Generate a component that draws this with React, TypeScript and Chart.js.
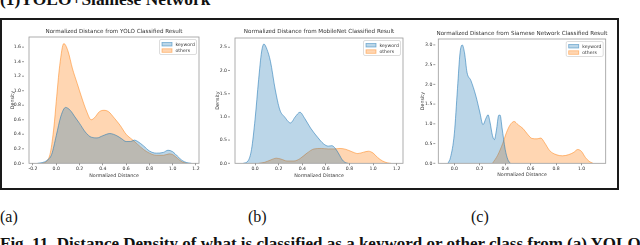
import React, { useEffect, useRef } from "react";
import { Chart, registerables } from "chart.js";

Chart.register(...registerables);

// ---------- data ----------
const seriesNames = ["keyword", "others"];

const yoloTitle = "Normalized Distance from YOLO Classified Result";
const mobileTitle = "Normalized Distance from MobileNet Classified Result";
const siameseTitle = "Normalized Distance from Siamese Network Classified Result";

const xAxisLabel = "Normalized Distance";
const yAxisLabel = "Density";

const yoloKeywordX = [-0.16, -0.12, -0.08, -0.04, 0.0, 0.04, 0.08, 0.12, 0.16, 0.2, 0.25, 0.3, 0.35, 0.4, 0.46, 0.52, 0.56, 0.6, 0.64, 0.67, 0.7, 0.75, 0.8, 0.86, 0.92, 0.96, 1.0, 1.04, 1.08, 1.12, 1.16];
const yoloKeywordY = [0, 0.01, 0.04, 0.12, 0.38, 0.65, 0.77, 0.73, 0.64, 0.55, 0.43, 0.36, 0.35, 0.38, 0.41, 0.38, 0.34, 0.3, 0.3, 0.32, 0.3, 0.24, 0.17, 0.14, 0.15, 0.18, 0.16, 0.1, 0.04, 0.01, 0];

const yoloOthersX = [-0.12, -0.08, -0.05, -0.02, 0.0, 0.03, 0.065, 0.1, 0.14, 0.18, 0.22, 0.26, 0.3, 0.33, 0.37, 0.41, 0.45, 0.5, 0.55, 0.6, 0.65, 0.7, 0.75, 0.8, 0.86, 0.92, 0.97, 1.0, 1.04, 1.08, 1.12];
const yoloOthersY = [0, 0.03, 0.15, 0.5, 0.85, 1.35, 1.65, 1.55, 1.3, 1.1, 0.9, 0.72, 0.6, 0.63, 0.71, 0.73, 0.71, 0.62, 0.52, 0.4, 0.33, 0.26, 0.19, 0.14, 0.11, 0.11, 0.13, 0.12, 0.07, 0.02, 0];

const mobileKeywordX = [-0.1, -0.06, -0.03, 0.0, 0.03, 0.055, 0.075, 0.1, 0.13, 0.17, 0.21, 0.25, 0.3, 0.34, 0.38, 0.42, 0.47, 0.53, 0.58, 0.62, 0.65, 0.68, 0.71, 0.74, 0.77, 0.79];
const mobileKeywordY = [0, 0.05, 0.3, 0.95, 1.8, 2.4, 2.57, 2.46, 2.2, 1.6, 1.15, 1.0, 0.87, 1.0, 1.1, 0.97, 0.76, 0.56, 0.42, 0.37, 0.38, 0.32, 0.2, 0.07, 0.01, 0];

const mobileOthersX = [0.03, 0.08, 0.13, 0.18, 0.22, 0.27, 0.33, 0.38, 0.44, 0.5, 0.56, 0.62, 0.67, 0.72, 0.77, 0.82, 0.87, 0.92, 0.96, 1.0, 1.04, 1.08, 1.12, 1.15];
const mobileOthersY = [0, 0.02, 0.07, 0.11, 0.09, 0.05, 0.05, 0.1, 0.22, 0.31, 0.32, 0.31, 0.31, 0.32, 0.3, 0.25, 0.21, 0.24, 0.26, 0.22, 0.12, 0.05, 0.01, 0];

const siameseKeywordX = [-0.05, -0.03, 0.0, 0.025, 0.045, 0.062, 0.08, 0.1, 0.13, 0.17, 0.2, 0.225, 0.25, 0.265, 0.28, 0.3, 0.315, 0.33, 0.35, 0.36, 0.375, 0.4, 0.42, 0.44];
const siameseKeywordY = [0, 0.15, 0.75, 1.9, 2.8, 3.0, 2.8, 2.3, 2.1, 1.7, 1.3, 0.98, 1.15, 1.23, 1.05, 0.7, 0.6, 0.82, 1.22, 1.22, 0.9, 0.35, 0.1, 0];

const siameseOthersX = [0.3, 0.34, 0.38, 0.41, 0.44, 0.47, 0.5, 0.54, 0.58, 0.61, 0.65, 0.68, 0.71, 0.75, 0.8, 0.85, 0.9, 0.94, 0.97, 1.0, 1.03, 1.06, 1.09];
const siameseOthersY = [0, 0.2, 0.5, 0.78, 0.98, 1.06, 0.98, 0.88, 0.72, 0.63, 0.62, 0.64, 0.52, 0.32, 0.22, 0.19, 0.22, 0.28, 0.35, 0.3, 0.15, 0.05, 0];

const yoloXTicks = [-0.2, 0.0, 0.2, 0.4, 0.6, 0.8, 1.0, 1.2];
const mobileXTicks = [0.0, 0.2, 0.4, 0.6, 0.8, 1.0, 1.2];
const siameseXTicks = [0.0, 0.2, 0.4, 0.6, 0.8, 1.0];
const yoloYTicks = [0.0, 0.2, 0.4, 0.6, 0.8, 1.0, 1.2, 1.4, 1.6];
const mobileYTicks = [0.0, 0.5, 1.0, 1.5, 2.0, 2.5];
const siameseYTicks = [0.0, 0.5, 1.0, 1.5, 2.0, 2.5, 3.0];

// ---------- style ----------
const FONT = "'DejaVu Sans', sans-serif";
const TEXT = "#333";
const KW_FILL = "rgba(31,119,180,0.3)";
const KW_LINE = "rgba(31,119,180,0.55)";
const OT_FILL = "rgba(255,127,14,0.32)";
const OT_LINE = "rgba(255,127,14,0.5)";
const TICK_FS = 4.6;
const LABEL_FS = 4.8;
const TITLE_FS = 5.6;

type Panel = {
  title: string;
  kwX: number[]; kwY: number[]; otX: number[]; otY: number[];
  xTicks: number[]; yTicks: number[];
  xMin: number; xMax: number; yMax: number;
  left: number; top: number; width: number; height: number;
  plotLeft: number; plotRight: number; plotTop: number; plotBottom: number;
  titleY: number; densityX: number; xTitleY: number; yGap: number;
};

const panels: Panel[] = [
  {
    title: yoloTitle, kwX: yoloKeywordX, kwY: yoloKeywordY, otX: yoloOthersX, otY: yoloOthersY,
    xTicks: yoloXTicks, yTicks: yoloYTicks, xMin: -0.234, xMax: 1.226, yMax: 1.74,
    left: 3, top: 25, width: 199, height: 160,
    plotLeft: 29, plotRight: 199, plotTop: 37, plotBottom: 163.3,
    titleY: 32, densityX: 12.5, xTitleY: 175.7, yGap: 8,
  },
  {
    title: mobileTitle, kwX: mobileKeywordX, kwY: mobileKeywordY, otX: mobileOthersX, otY: mobileOthersY,
    xTicks: mobileXTicks, yTicks: mobileYTicks, xMin: -0.17, xMax: 1.253, yMax: 2.7,
    left: 209, top: 25, width: 198, height: 160,
    plotLeft: 235, plotRight: 403, plotTop: 38, plotBottom: 163.3,
    titleY: 32, densityX: 217.5, xTitleY: 175.7, yGap: 8,
  },
  {
    title: siameseTitle, kwX: siameseKeywordX, kwY: siameseKeywordY, otX: siameseOthersX, otY: siameseOthersY,
    xTicks: siameseXTicks, yTicks: siameseYTicks, xMin: -0.126, xMax: 1.19, yMax: 3.15,
    left: 412, top: 25, width: 198, height: 160,
    plotLeft: 438.3, plotRight: 605.7, plotTop: 39, plotBottom: 163.3,
    titleY: 34, densityX: 423, xTitleY: 175, yGap: 6,
  },
];

function pts(xs: number[], ys: number[]) {
  return xs.map((x, i) => ({ x, y: ys[i] }));
}

function ChartPanel({ p }: { p: Panel }) {
  const ref = useRef<HTMLCanvasElement>(null);
  useEffect(() => {
    if (!ref.current) return;
    const lh = LABEL_FS * 1.2;
    const canvasBottom = p.top + p.height;

    const decor = {
      id: "decor",
      afterDatasetsDraw(chart: any) {
        const { ctx, chartArea: a } = chart;
        ctx.save();
        ctx.strokeStyle = "#9a9a9a";
        ctx.lineWidth = 0.8;
        ctx.strokeRect(a.left, a.top, a.right - a.left, a.bottom - a.top);
        // y tick marks (next to labels)
        ctx.strokeStyle = "#555";
        ctx.lineWidth = 0.6;
        const ys = chart.scales.y;
        p.yTicks.forEach((v) => {
          const y = ys.getPixelForValue(v);
          ctx.beginPath();
          ctx.moveTo(a.left - p.yGap + 1, y);
          ctx.lineTo(a.left - p.yGap + 3, y);
          ctx.stroke();
        });
        ctx.restore();
      },
      afterDraw(chart: any) {
        const { ctx, chartArea: a } = chart;
        ctx.save();
        // chart title centred over the plot area
        ctx.fillStyle = TEXT;
        ctx.font = `${TITLE_FS}px ${FONT}`;
        ctx.textAlign = "center";
        ctx.textBaseline = "middle";
        ctx.fillText(p.title, (a.left + a.right) / 2, p.titleY - p.top);
        // legend in the upper right of the plot
        const w = 37, h = 15;
        const x = a.right - w - 2.5;
        const y = a.top + 2.5;
        ctx.fillStyle = "rgba(255,255,255,0.85)";
        ctx.strokeStyle = "#cfcfcf";
        ctx.lineWidth = 0.7;
        ctx.beginPath();
        (ctx as any).roundRect(x, y, w, h, 1.5);
        ctx.fill();
        ctx.stroke();
        chart.data.datasets.forEach((ds: any, i: number) => {
          const ry = y + 3 + i * 6.3;
          ctx.fillStyle = ds.backgroundColor;
          ctx.strokeStyle = ds.borderColor;
          ctx.lineWidth = 0.8;
          ctx.fillRect(x + 2.5, ry, 10, 3.5);
          ctx.strokeRect(x + 2.5, ry, 10, 3.5);
          ctx.fillStyle = TEXT;
          ctx.font = `4.6px ${FONT}`;
          ctx.textBaseline = "middle";
          ctx.textAlign = "left";
          ctx.fillText(ds.label, x + 16, ry + 1.9);
        });
        ctx.restore();
      },
    };

    const chart = new Chart(ref.current, {
      type: "line",
      data: {
        datasets: [
          { label: seriesNames[0], data: pts(p.kwX, p.kwY), backgroundColor: KW_FILL, borderColor: KW_LINE, fill: "origin", order: 1 },
          { label: seriesNames[1], data: pts(p.otX, p.otY), backgroundColor: OT_FILL, borderColor: OT_LINE, fill: "origin", order: 2 },
        ],
      },
      options: {
        animation: false,
        responsive: false,
        maintainAspectRatio: false,
        events: [],
        layout: { padding: { left: 0, top: p.plotTop - p.top, bottom: 0, right: p.left + p.width - p.plotRight } },
        elements: {
          point: { radius: 0 },
          line: { borderWidth: 1, cubicInterpolationMode: "monotone" },
        },
        plugins: {
          legend: { display: false },
          tooltip: { enabled: false },
          title: { display: false },
        },
        scales: {
          x: {
            type: "linear",
            min: p.xMin,
            max: p.xMax,
            afterBuildTicks: (s: any) => { s.ticks = p.xTicks.map((v) => ({ value: v })); },
            afterFit: (s: any) => { s.height = canvasBottom - p.plotBottom; },
            ticks: {
              callback: (v: any) => Number(v).toFixed(1),
              font: { family: FONT, size: TICK_FS },
              color: TEXT,
              padding: 1.2,
              maxRotation: 0,
              autoSkip: false,
            },
            grid: { display: true, drawOnChartArea: false, drawTicks: true, tickLength: 2, color: "#555", lineWidth: 0.6 },
            border: { display: false },
            title: {
              display: true,
              text: xAxisLabel,
              color: TEXT,
              font: { family: FONT, size: LABEL_FS },
              padding: { top: 0, bottom: canvasBottom - p.xTitleY - lh / 2 },
            },
          },
          y: {
            type: "linear",
            min: 0,
            max: p.yMax,
            afterBuildTicks: (s: any) => { s.ticks = p.yTicks.map((v) => ({ value: v })); },
            afterFit: (s: any) => { s.width = p.plotLeft - p.left; },
            ticks: {
              callback: (v: any) => Number(v).toFixed(1),
              font: { family: FONT, size: TICK_FS },
              color: TEXT,
              padding: p.yGap,
              autoSkip: false,
            },
            grid: { display: false, drawTicks: false },
            border: { display: false },
            title: {
              display: true,
              text: yAxisLabel,
              color: TEXT,
              font: { family: FONT, size: LABEL_FS },
              padding: { top: p.densityX - p.left - lh / 2, bottom: 0 },
            },
          },
        },
      },
      plugins: [decor],
    } as any);
    return () => chart.destroy();
  }, [p]);

  return (
    <canvas
      ref={ref}
      width={p.width}
      height={p.height}
      style={{ position: "absolute", left: p.left, top: p.top, width: p.width, height: p.height }}
    />
  );
}

const serif = "'Liberation Serif', 'Times New Roman', serif";

export default function App() {
  return (
    <div style={{ position: "fixed", left: 0, top: 0, width: 640, height: 245, overflow: "hidden", background: "#fff" }}>
      <div style={{ position: "absolute", left: 0, top: -9.5, fontFamily: serif, fontWeight: "bold", fontSize: 17.4, lineHeight: "17px", whiteSpace: "nowrap", color: "#111" }}>
        (1)YOLO+Siamese Network
      </div>
      <div style={{ position: "absolute", left: 0, top: 18, width: 619, height: 172, border: "2px solid #1a1a1a", boxSizing: "border-box" }} />
      {panels.map((p, i) => (
        <ChartPanel key={i} p={p} />
      ))}
      <div style={{ position: "absolute", left: 0, top: 208.6, fontFamily: serif, fontSize: 16, lineHeight: "16px", color: "#111" }}>(a)</div>
      <div style={{ position: "absolute", left: 248, top: 208.6, fontFamily: serif, fontSize: 16, lineHeight: "16px", color: "#111" }}>(b)</div>
      <div style={{ position: "absolute", left: 471, top: 208.6, fontFamily: serif, fontSize: 16, lineHeight: "16px", color: "#111" }}>(c)</div>
      <div style={{ position: "absolute", left: 0, top: 235.4, fontFamily: serif, fontWeight: "bold", fontSize: 17, lineHeight: "17px", whiteSpace: "nowrap", color: "#111" }}>
        Fig. 11. Distance Density of what is classified as a keyword or other class from (a) YOLO
      </div>
    </div>
  );
}
